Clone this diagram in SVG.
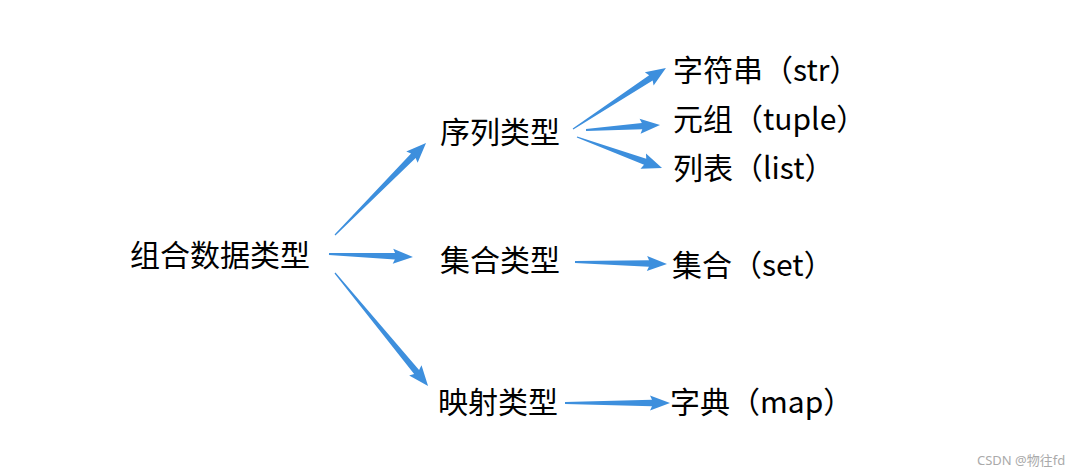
<svg xmlns="http://www.w3.org/2000/svg" width="1080" height="476" viewBox="0 0 1080 476">
<style>
.t{font-family:"Microsoft YaHei","Noto Sans CJK SC","Noto Sans",sans-serif;font-size:30px;fill:#000;dominant-baseline:central}
.a{fill:#3d8fdd}
.w{font-family:"Noto Sans","Noto Sans CJK SC",sans-serif;font-size:13px;fill:#aaa}
</style>
<rect width="1080" height="476" fill="#fff"/>
<g id="connectors">
<g transform="translate(335,235) rotate(-45.3)"><polygon class="a" points="0,-0.6 111.4,-3.2 109.4,-8 129.4,0 109.4,8 111.4,3.2 0,0.6"/></g>
<g transform="translate(329,254) rotate(2.0)"><polygon class="a" points="0,-0.9 66,-3.2 64,-7.5 84,0 64,7.5 66,3.2 0,0.9"/></g>
<g transform="translate(335,273) rotate(50.5)"><polygon class="a" points="0,-0.6 128.3,-3.2 126.3,-8 146.3,0 126.3,8 128.3,3.2 0,0.6"/></g>
<g transform="translate(573,129) rotate(-33.3)"><polygon class="a" points="0,-0.6 93.2,-3.2 91.2,-8 111.2,0 91.2,8 93.2,3.2 0,0.6"/></g>
<g transform="translate(586,130) rotate(-3.9)"><polygon class="a" points="0,-0.9 56.2,-3.2 54.2,-7.5 74.2,0 54.2,7.5 56.2,3.2 0,0.9"/></g>
<g transform="translate(577,137) rotate(20.0)"><polygon class="a" points="0,-0.6 72.5,-3.2 70.5,-8 90.5,0 70.5,8 72.5,3.2 0,0.6"/></g>
<g transform="translate(575,262) rotate(1.2)"><polygon class="a" points="0,-0.9 74,-3.2 72,-7.5 92,0 72,7.5 74,3.2 0,0.9"/></g>
<g transform="translate(565,403)"><polygon class="a" points="0,-0.9 87,-3.2 85,-7.5 105,0 85,7.5 87,3.2 0,0.9"/></g>
</g>
<g id="n-root"><text class="t" x="130" y="253">组合数据类型</text></g>
<g id="n-seq"><text class="t" x="440" y="130">序列类型</text></g>
<g id="n-set"><text class="t" x="440" y="258">集合类型</text></g>
<g id="n-map"><text class="t" x="438" y="400">映射类型</text></g>
<g id="n-str"><text class="t" x="673" y="68">字符串（str）</text></g>
<g id="n-tuple"><text class="t" x="673" y="117">元组（tuple）</text></g>
<g id="n-list"><text class="t" x="673" y="166">列表（list）</text></g>
<g id="n-setv"><text class="t" x="672" y="263">集合（set）</text></g>
<g id="n-dict"><text class="t" x="670" y="400">字典（map）</text></g>
<text class="w" x="977" y="465">CSDN @物往fd</text>
</svg>
